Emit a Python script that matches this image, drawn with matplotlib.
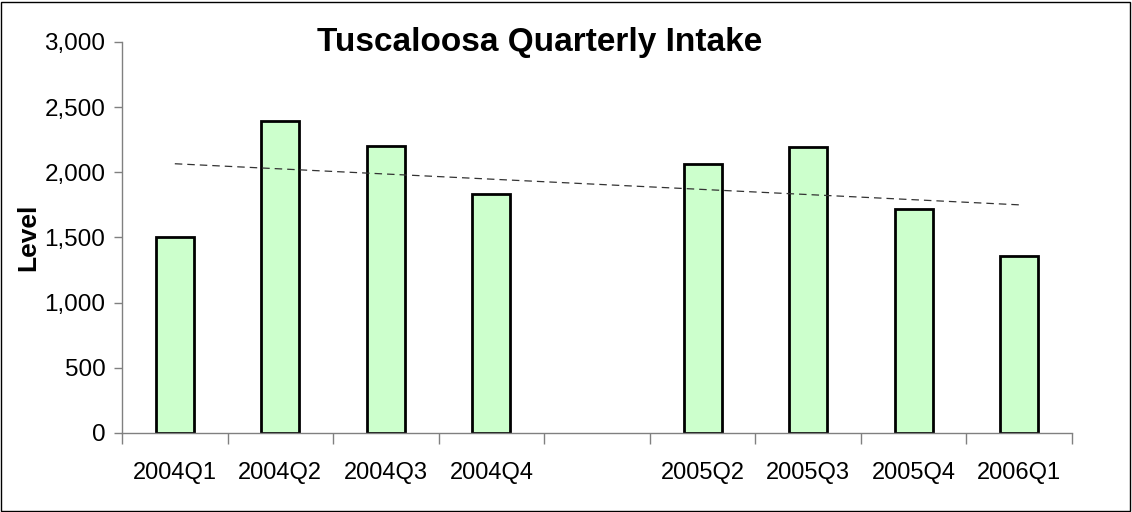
import numpy as np
import matplotlib
matplotlib.use("Agg")
import matplotlib.pyplot as plt
from matplotlib.patches import Rectangle
from matplotlib.ticker import FuncFormatter, FixedLocator

plt.rcParams['font.family'] = ['Liberation Sans', 'DejaVu Sans']

# quarters, 2005Q1 has no value
quarters = ["2004Q1", "2004Q2", "2004Q3", "2004Q4", "",
            "2005Q2", "2005Q3", "2005Q4", "2006Q1"]
intake = [1505, 2390, 2200, 1830, np.nan, 2065, 2195, 1720, 1360]

fig = plt.figure(figsize=(11.32, 5.12), dpi=100)
ax = fig.add_axes([0.1078, 0.1543, 0.8392, 0.7637])

x = np.arange(len(quarters))
vals = np.array(intake, dtype=float)
ok = ~np.isnan(vals)
ax.bar(x[ok], vals[ok], width=0.36, color="#CCFFCC", edgecolor="black",
       linewidth=2, zorder=2)

# linear trendline over the quarters with data
slope, icept = np.polyfit(x[ok] + 1, vals[ok], 1)
tx = np.array([x[0], x[-1]])
ax.plot(tx, slope * (tx + 1) + icept, linestyle=(0, (6, 4)), color="#333333",
        linewidth=0.9, zorder=3)

ax.set_xlim(-0.5, len(quarters) - 0.5)
ax.set_ylim(0, 3000)
ax.set_yticks(range(0, 3001, 500))
ax.yaxis.set_major_formatter(FuncFormatter(lambda v, p: f"{int(v):,}"))
ax.set_xticks(x)
ax.set_xticklabels(quarters)
ax.xaxis.set_minor_locator(FixedLocator(np.arange(-0.5, len(quarters), 1)))
ax.tick_params(axis="x", which="major", length=0, pad=21, labelsize=17)
ax.tick_params(axis="x", which="minor", length=8, direction="out",
               color="#808080", width=1)
ax.tick_params(axis="y", length=6, color="#808080", width=1, labelsize=17.5,
               pad=6)

for s in ["top", "right"]:
    ax.spines[s].set_visible(False)
for s in ["left", "bottom"]:
    ax.spines[s].set_color("#808080")
    ax.spines[s].set_linewidth(1)

ax.set_ylabel("Level", fontsize=19, fontweight="bold", labelpad=3)
fig.text(540 / 1132, 1 - 42 / 512, "Tuscaloosa Quarterly Intake",
         ha="center", va="center", fontsize=24, fontweight="bold")

fig.patches.append(Rectangle((0.001, 0.002), 0.997, 0.995,
                             transform=fig.transFigure, fill=False,
                             edgecolor="black", linewidth=1))

fig.savefig("out.png", dpi=100)
